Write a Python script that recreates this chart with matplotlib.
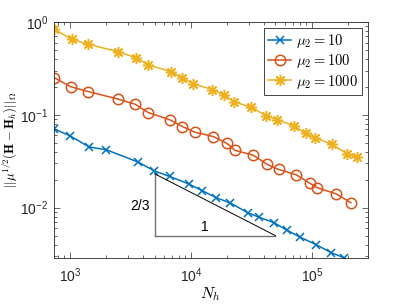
import numpy as np
import matplotlib
matplotlib.use("Agg")
import matplotlib.pyplot as plt

plt.rcParams["mathtext.fontset"] = "cm"
plt.rcParams["font.family"] = ["Liberation Sans", "DejaVu Sans"]
plt.rcParams["axes.unicode_minus"] = False

# mu_2 = 10
n_10 = [738, 1000, 1444, 1995, 3683, 4945, 6670, 9620, 12330, 16190, 21200,
        29430, 36460, 48520, 62780, 79120, 108500, 144200, 185700]
err_10 = [0.0707, 0.0594, 0.0450, 0.0421, 0.0309, 0.0250, 0.0217, 0.0180,
          0.0153, 0.0128, 0.01124, 0.00884, 0.00791, 0.00690, 0.00569,
          0.00484, 0.00400, 0.00328, 0.00288]

# mu_2 = 100
n_100 = [738, 1013, 1416, 2506, 3445, 4436, 6701, 8510, 10730, 15280, 19720,
         23110, 32750, 42870, 53060, 74180, 95710, 110970, 159300, 210000]
err_100 = [0.252, 0.201, 0.178, 0.1476, 0.1303, 0.1059, 0.0883, 0.0748,
           0.0651, 0.0584, 0.0496, 0.0415, 0.0367, 0.0292, 0.0258, 0.0226,
           0.0184, 0.0164, 0.01406, 0.01133]

# mu_2 = 1000
n_1000 = [738, 1033, 1416, 2479, 3489, 4413, 6797, 8474, 10450, 15060, 18920,
          22650, 31500, 41900, 51050, 71000, 88700, 106900, 146300, 195900,
          234000]
err_1000 = [0.835, 0.652, 0.575, 0.480, 0.413, 0.345, 0.292, 0.248, 0.2155,
            0.187, 0.163, 0.138, 0.121, 0.0975, 0.0890, 0.0762, 0.0630,
            0.0566, 0.0480, 0.0381, 0.0351]

# slope triangle
tri_x = [5e3, 5e3, 5e4]
tri_y = [0.005 * 10 ** (2 / 3), 0.005, 0.005]

fig = plt.figure(figsize=(4.07, 3.05), dpi=100)
ax = fig.add_axes([0.1327, 0.154, 0.771, 0.774])

ax.plot(n_10, err_10, color="#0072BD", marker="x", ms=6, mew=1.1, lw=1.1,
        label=r"$\mu_2 = 10$")
ax.plot(n_100, err_100, color="#D95319", marker="o", ms=7.5, mfc="none",
        mew=1.1, lw=1.1, label=r"$\mu_2 = 100$")
ax.plot(n_1000, err_1000, color="#EDB120", marker=(8, 2, 0), ms=8, mew=1.1,
        lw=1.1, label=r"$\mu_2 = 1000$")

ax.plot(tri_x[:2], tri_y[:2], color="0.45", lw=1.0)
ax.plot(tri_x[1:], tri_y[1:], color="0.45", lw=1.0)
ax.plot([tri_x[0], tri_x[2]], [tri_y[0], tri_y[2]], color="k", lw=0.7)
ax.text(3790, 0.0105, "2/3", fontsize=10, ha="center", va="center")
ax.text(1.3e4, 0.0062, "1", fontsize=10, ha="center", va="center")

ax.set_xscale("log")
ax.set_yscale("log")
ax.set_xlim(738, 2.9e5)
ax.set_ylim(0.00287, 1)
ax.tick_params(which="both", direction="in", top=True, right=True,
               labelsize=10, colors="0.15", width=0.5)
ax.tick_params(which="major", length=4)
ax.tick_params(which="minor", length=2)
ax.tick_params(axis="x", pad=6)
ax.tick_params(axis="y", pad=4)
for s in ax.spines.values():
    s.set_linewidth(0.6)
    s.set_color("0.15")

ax.set_xlabel(r"$N_h$", fontsize=11.5, labelpad=0)
ax.set_ylabel(r"$||\mu^{1/2}(\mathbf{H}-\mathbf{H}_h)||_\Omega$", fontsize=9.2,
              labelpad=0)
ax.yaxis.set_label_coords(-0.107, 0.5)

leg = ax.legend(loc="upper right", fontsize=10.5, fancybox=False,
                edgecolor="0.15", framealpha=1, handlelength=1.6,
                borderpad=0.3, labelspacing=0.15, handletextpad=0.3,
                borderaxespad=0.4)
leg.get_frame().set_linewidth(0.6)

fig.savefig("out.png", dpi=100)
